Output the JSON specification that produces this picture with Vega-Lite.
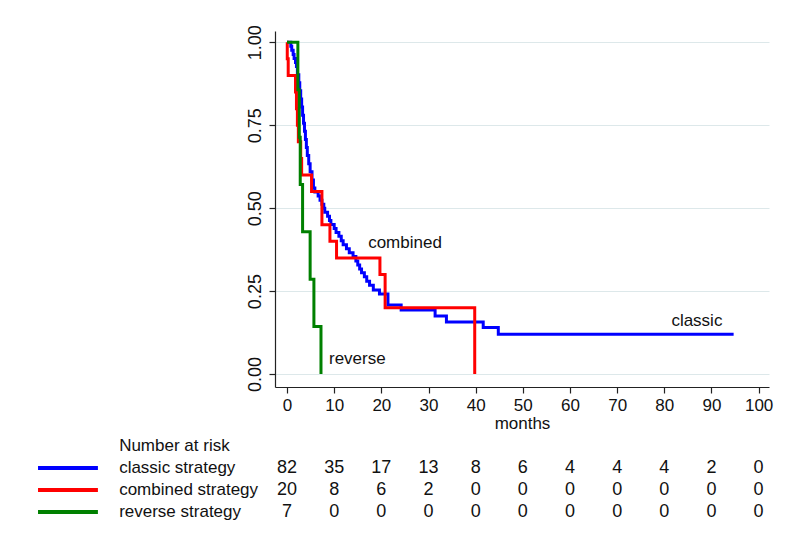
{
  "$schema": "https://vega.github.io/schema/vega-lite/v6.json",
  "background": "white",
  "padding": {"left": 36, "top": 24, "right": 5, "bottom": 5},
  "config": {
    "view": {"stroke": null},
    "font": "Liberation Sans",
    "text": {"font": "Liberation Sans", "fontSize": 17, "color": "#111111"},
    "axis": {"labelFont": "Liberation Sans", "titleFont": "Liberation Sans", "labelColor": "#111111", "titleColor": "#111111", "domainColor": "#222222", "tickColor": "#222222"}
  },
  "datasets": {
    "km": [
      {"series": "classic", "t": 0, "S": 1.0},
      {"series": "classic", "t": 0.8, "S": 0.988},
      {"series": "classic", "t": 1.0, "S": 0.976},
      {"series": "classic", "t": 1.3, "S": 0.963},
      {"series": "classic", "t": 1.5, "S": 0.951},
      {"series": "classic", "t": 1.8, "S": 0.939},
      {"series": "classic", "t": 2.0, "S": 0.927},
      {"series": "classic", "t": 2.2, "S": 0.902},
      {"series": "classic", "t": 2.5, "S": 0.878},
      {"series": "classic", "t": 2.7, "S": 0.854},
      {"series": "classic", "t": 2.9, "S": 0.829},
      {"series": "classic", "t": 3.1, "S": 0.805},
      {"series": "classic", "t": 3.3, "S": 0.780},
      {"series": "classic", "t": 3.5, "S": 0.756},
      {"series": "classic", "t": 3.7, "S": 0.732},
      {"series": "classic", "t": 3.9, "S": 0.707},
      {"series": "classic", "t": 4.1, "S": 0.683},
      {"series": "classic", "t": 4.3, "S": 0.659},
      {"series": "classic", "t": 4.6, "S": 0.634},
      {"series": "classic", "t": 4.9, "S": 0.610},
      {"series": "classic", "t": 5.3, "S": 0.585},
      {"series": "classic", "t": 5.6, "S": 0.561},
      {"series": "classic", "t": 5.9, "S": 0.549},
      {"series": "classic", "t": 6.6, "S": 0.537},
      {"series": "classic", "t": 7.0, "S": 0.524},
      {"series": "classic", "t": 7.4, "S": 0.512},
      {"series": "classic", "t": 7.8, "S": 0.500},
      {"series": "classic", "t": 8.0, "S": 0.488},
      {"series": "classic", "t": 8.6, "S": 0.476},
      {"series": "classic", "t": 9.0, "S": 0.463},
      {"series": "classic", "t": 9.3, "S": 0.451},
      {"series": "classic", "t": 10.0, "S": 0.439},
      {"series": "classic", "t": 10.4, "S": 0.427},
      {"series": "classic", "t": 11.0, "S": 0.415},
      {"series": "classic", "t": 11.5, "S": 0.402},
      {"series": "classic", "t": 11.9, "S": 0.390},
      {"series": "classic", "t": 12.6, "S": 0.378},
      {"series": "classic", "t": 13.2, "S": 0.366},
      {"series": "classic", "t": 14.0, "S": 0.354},
      {"series": "classic", "t": 14.6, "S": 0.341},
      {"series": "classic", "t": 15.0, "S": 0.329},
      {"series": "classic", "t": 15.4, "S": 0.317},
      {"series": "classic", "t": 15.8, "S": 0.305},
      {"series": "classic", "t": 16.4, "S": 0.293},
      {"series": "classic", "t": 16.9, "S": 0.280},
      {"series": "classic", "t": 17.5, "S": 0.268},
      {"series": "classic", "t": 18.3, "S": 0.253},
      {"series": "classic", "t": 19.6, "S": 0.241},
      {"series": "classic", "t": 21.4, "S": 0.208},
      {"series": "classic", "t": 24.2, "S": 0.193},
      {"series": "classic", "t": 31.4, "S": 0.175},
      {"series": "classic", "t": 33.8, "S": 0.157},
      {"series": "classic", "t": 41.6, "S": 0.140},
      {"series": "classic", "t": 44.8, "S": 0.120},
      {"series": "classic", "t": 94.7, "S": 0.120},
      {"series": "combined", "t": 0, "S": 1.0},
      {"series": "combined", "t": 0.05, "S": 0.95},
      {"series": "combined", "t": 0.25, "S": 0.90},
      {"series": "combined", "t": 1.8, "S": 0.85},
      {"series": "combined", "t": 2.0, "S": 0.80},
      {"series": "combined", "t": 2.2, "S": 0.75},
      {"series": "combined", "t": 2.4, "S": 0.70},
      {"series": "combined", "t": 2.9, "S": 0.65},
      {"series": "combined", "t": 3.1, "S": 0.60},
      {"series": "combined", "t": 5.2, "S": 0.55},
      {"series": "combined", "t": 7.4, "S": 0.45},
      {"series": "combined", "t": 9.1, "S": 0.40},
      {"series": "combined", "t": 10.5, "S": 0.35},
      {"series": "combined", "t": 19.7, "S": 0.30},
      {"series": "combined", "t": 20.8, "S": 0.20},
      {"series": "combined", "t": 39.8, "S": 0.0},
      {"series": "reverse", "t": 0, "S": 1.0},
      {"series": "reverse", "t": 2.3, "S": 0.857},
      {"series": "reverse", "t": 2.6, "S": 0.714},
      {"series": "reverse", "t": 2.8, "S": 0.571},
      {"series": "reverse", "t": 3.3, "S": 0.429},
      {"series": "reverse", "t": 4.9, "S": 0.286},
      {"series": "reverse", "t": 5.7, "S": 0.143},
      {"series": "reverse", "t": 7.2, "S": 0.0}
    ],
    "notes": [
      {"label": "combined", "t": 17.2, "S": 0.395},
      {"label": "classic", "t": 81.5, "S": 0.16},
      {"label": "reverse", "t": 8.9, "S": 0.045}
    ],
    "rows": [
      {"row": "header", "label": "Number at risk"},
      {"row": "classic", "label": "classic strategy"},
      {"row": "combined", "label": "combined strategy"},
      {"row": "reverse", "label": "reverse strategy"}
    ],
    "risk": [
      {"row": "classic", "t": 0, "n": 82}, {"row": "classic", "t": 10, "n": 35}, {"row": "classic", "t": 20, "n": 17}, {"row": "classic", "t": 30, "n": 13}, {"row": "classic", "t": 40, "n": 8}, {"row": "classic", "t": 50, "n": 6}, {"row": "classic", "t": 60, "n": 4}, {"row": "classic", "t": 70, "n": 4}, {"row": "classic", "t": 80, "n": 4}, {"row": "classic", "t": 90, "n": 2}, {"row": "classic", "t": 100, "n": 0},
      {"row": "combined", "t": 0, "n": 20}, {"row": "combined", "t": 10, "n": 8}, {"row": "combined", "t": 20, "n": 6}, {"row": "combined", "t": 30, "n": 2}, {"row": "combined", "t": 40, "n": 0}, {"row": "combined", "t": 50, "n": 0}, {"row": "combined", "t": 60, "n": 0}, {"row": "combined", "t": 70, "n": 0}, {"row": "combined", "t": 80, "n": 0}, {"row": "combined", "t": 90, "n": 0}, {"row": "combined", "t": 100, "n": 0},
      {"row": "reverse", "t": 0, "n": 7}, {"row": "reverse", "t": 10, "n": 0}, {"row": "reverse", "t": 20, "n": 0}, {"row": "reverse", "t": 30, "n": 0}, {"row": "reverse", "t": 40, "n": 0}, {"row": "reverse", "t": 50, "n": 0}, {"row": "reverse", "t": 60, "n": 0}, {"row": "reverse", "t": 70, "n": 0}, {"row": "reverse", "t": 80, "n": 0}, {"row": "reverse", "t": 90, "n": 0}, {"row": "reverse", "t": 100, "n": 0}
    ]
  },
  "bounds": "flush",
  "spacing": 48,
  "vconcat": [
    {
      "width": 494,
      "height": 356,
      "layer": [
        {
          "data": {"name": "km"},
          "mark": {"type": "line", "interpolate": "step-after", "strokeWidth": 3},
          "encoding": {
            "x": {
              "field": "t", "type": "quantitative",
              "scale": {"domain": [-2.55, 102.2], "nice": false, "zero": false},
              "axis": {"values": [0, 10, 20, 30, 40, 50, 60, 70, 80, 90, 100], "grid": false, "title": "months", "titleFontWeight": "normal", "titleFontSize": 17, "titlePadding": 2, "labelFontSize": 17, "tickSize": 6, "labelPadding": 4, "domainWidth": 1.2, "tickWidth": 1.2}
            },
            "y": {
              "field": "S", "type": "quantitative",
              "scale": {"domain": [-0.039, 1.034], "nice": false, "zero": false},
              "axis": {"values": [0, 0.25, 0.5, 0.75, 1], "format": ".2f", "labelAngle": -90, "labelFontSize": 18, "title": null, "grid": true, "gridColor": "#dde8ea", "gridWidth": 1, "tickSize": 6, "labelPadding": 5, "domainWidth": 1.2, "tickWidth": 1.2}
            },
            "color": {
              "field": "series", "type": "nominal",
              "scale": {"domain": ["classic", "combined", "reverse"], "range": ["#0000ff", "#ff0000", "#008000"]},
              "legend": null
            }
          }
        },
        {
          "data": {"name": "notes"},
          "mark": {"type": "text", "align": "left", "baseline": "middle", "fontSize": 17},
          "encoding": {
            "x": {"field": "t", "type": "quantitative", "scale": {"domain": [-2.55, 102.2], "nice": false, "zero": false}},
            "y": {"field": "S", "type": "quantitative", "scale": {"domain": [-0.039, 1.034], "nice": false, "zero": false}},
            "text": {"field": "label", "type": "nominal"}
          }
        }
      ]
    },
    {
      "width": 494,
      "height": 88,
      "layer": [
        {
          "data": {"name": "risk"},
          "mark": {"type": "text", "align": "center", "baseline": "middle", "fontSize": 18},
          "encoding": {
            "x": {"field": "t", "type": "quantitative", "scale": {"domain": [-2.55, 102.2], "nice": false, "zero": false}, "axis": null},
            "y": {"field": "row", "type": "nominal", "scale": {"domain": ["header", "classic", "combined", "reverse"], "paddingInner": 0, "paddingOuter": 0}, "axis": null},
            "text": {"field": "n", "type": "quantitative"}
          }
        },
        {
          "data": {"name": "rows"},
          "mark": {"type": "text", "align": "left", "baseline": "middle", "fontSize": 17},
          "encoding": {
            "x": {"datum": -35.6, "type": "quantitative", "scale": {"domain": [-2.55, 102.2], "nice": false, "zero": false}},
            "y": {"field": "row", "type": "nominal", "scale": {"domain": ["header", "classic", "combined", "reverse"], "paddingInner": 0, "paddingOuter": 0}, "axis": null},
            "text": {"field": "label", "type": "nominal"}
          }
        },
        {
          "data": {"name": "rows"},
          "transform": [{"filter": "datum.row !== 'header'"}],
          "mark": {"type": "rule", "strokeWidth": 4},
          "encoding": {
            "x": {"datum": -52.8, "type": "quantitative", "scale": {"domain": [-2.55, 102.2], "nice": false, "zero": false}},
            "x2": {"datum": -40.1},
            "y": {"field": "row", "type": "nominal", "scale": {"domain": ["header", "classic", "combined", "reverse"], "paddingInner": 0, "paddingOuter": 0}, "axis": null},
            "color": {"field": "row", "type": "nominal", "scale": {"domain": ["classic", "combined", "reverse"], "range": ["#0000ff", "#ff0000", "#008000"]}, "legend": null}
          }
        }
      ]
    }
  ]
}
